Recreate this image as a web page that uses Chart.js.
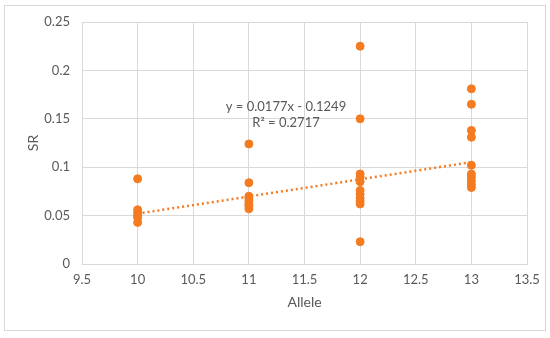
<!DOCTYPE html>
<html>
<head>
<meta charset="utf-8">
<title>SR vs Allele</title>
<script src="https://cdn.jsdelivr.net/npm/chart.js@4/dist/chart.umd.min.js"></script>
<style>
  html, body { margin: 0; padding: 0; background: #fff; }
  #wrap { width: 550px; height: 338px; position: relative; }
</style>
</head>
<body>
<div id="wrap"><canvas id="srChart" width="550" height="338"></canvas></div>
<script>
  // data
  var allele10 = [0.088, 0.056, 0.053, 0.05, 0.048, 0.043];
  var allele11 = [0.124, 0.084, 0.07, 0.068, 0.065, 0.062, 0.06, 0.057];
  var allele12 = [0.225, 0.15, 0.093, 0.09, 0.085, 0.076, 0.072, 0.068, 0.065, 0.062, 0.023];
  var allele13 = [0.181, 0.165, 0.138, 0.131, 0.102, 0.093, 0.09, 0.086, 0.082, 0.079];
  var alleles = [10, 11, 12, 13];
  var trendX = [10, 13];
  var trendY = [0.052, 0.1052];
  var equationLines = ["y = 0.0177x - 0.1249", "R\u00b2 = 0.2717"];

  var orange = "#f47b20";
  var textCol = "#595959";
  var gridCol = "#d9d9d9";
  var fontFam = "Lato, 'Open Sans', sans-serif";

  var groups = [allele10, allele11, allele12, allele13];
  var points = [];
  groups.forEach(function (vals, i) {
    vals.forEach(function (v) { points.push({ x: alleles[i], y: v }); });
  });
  var trend = trendX.map(function (x, i) { return { x: x, y: trendY[i] }; });

  // plain number labels like "10" and "0.2"
  function plain(v) { return String(Math.round(v * 1000) / 1000); }

  // outer frame + regression label
  var extras = {
    id: "extras",
    beforeDraw: function (chart) {
      var c = chart.ctx;
      c.save();
      c.strokeStyle = gridCol;
      c.lineWidth = 1;
      c.strokeRect(4.5, 5.5, 541, 325);
      c.restore();
    },
    afterDatasetsDraw: function (chart) {
      var c = chart.ctx;
      c.save();
      c.fillStyle = textCol;
      c.font = "13px " + fontFam;
      c.textAlign = "center";
      c.textBaseline = "middle";
      c.fillText(equationLines[0], 286, 107);
      c.fillText(equationLines[1], 286, 123);
      c.restore();
    }
  };

  new Chart(document.getElementById("srChart").getContext("2d"), {
    type: "scatter",
    data: {
      datasets: [{
        label: "SR",
        data: points,
        backgroundColor: orange,
        borderColor: orange,
        pointRadius: 4,
        pointHoverRadius: 4,
        order: 1
      }, {
        label: "Trend",
        type: "line",
        data: trend,
        borderColor: orange,
        borderWidth: 2.5,
        borderDash: [2, 3],
        pointRadius: 0,
        fill: false,
        order: 2
      }]
    },
    options: {
      responsive: false,
      animation: false,
      layout: { padding: { left: 0, right: 23, top: 22, bottom: 0 } },
      plugins: { legend: { display: false }, tooltip: { enabled: false } },
      scales: {
        x: {
          type: "linear",
          min: 9.5, max: 13.5,
          ticks: { stepSize: 0.5, color: textCol, font: { family: fontFam, size: 13 }, padding: 8, callback: plain },
          grid: { color: gridCol, drawTicks: false },
          border: { color: gridCol },
          title: { display: true, text: "Allele", color: textCol, font: { family: fontFam, size: 14 }, padding: { top: 0, bottom: 27 } },
          afterFit: function (s) { s.height = 74; }
        },
        y: {
          min: 0, max: 0.25,
          ticks: { stepSize: 0.05, color: textCol, font: { family: fontFam, size: 13 }, padding: 12, callback: plain },
          grid: { color: gridCol, drawTicks: false },
          border: { color: gridCol },
          title: { display: true, text: "SR", color: textCol, font: { family: fontFam, size: 14 }, padding: { top: 25, bottom: 0 } },
          afterFit: function (s) { s.width = 82; }
        }
      }
    },
    plugins: [extras]
  });
</script>
</body>
</html>
